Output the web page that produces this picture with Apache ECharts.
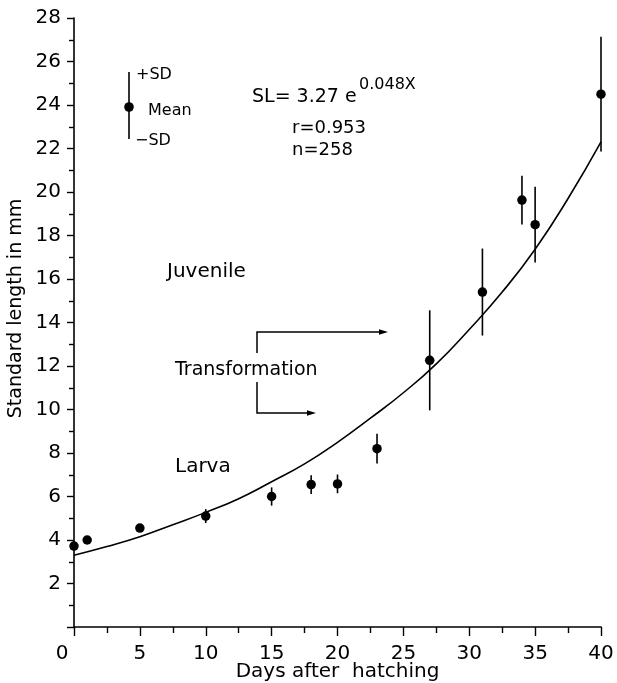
<!DOCTYPE html>
<html>
<head>
<meta charset="utf-8">
<script src="https://cdn.jsdelivr.net/npm/echarts@6/dist/echarts.min.js"></script>
<style>
html,body{margin:0;padding:0;background:#fff;}
#chart{width:617px;height:683px;}
</style>
</head>
<body>
<div id="chart"></div>
<script>
// Observed data: day after hatching, mean standard length (mm), SD
const days   = [0, 1, 5, 10, 15, 18, 20, 23, 27, 31, 34, 35, 40];
const meanSL = [3.72, 4.0, 4.55, 5.1, 6.0, 6.55, 6.58, 8.2, 12.26, 15.4, 19.63, 18.5, 24.5];
const sdSL   = [0.1, 0.1, 0.15, 0.32, 0.42, 0.43, 0.43, 0.68, 2.3, 2.0, 1.12, 1.74, 2.64];

// Fitted curve
const fitDays = [0, 2.5, 5, 7.5, 10, 12.5, 15, 17.5, 20, 22.5, 25, 27.5, 30, 32.5, 35, 37.5, 40];
const fitSL   = [3.3, 3.7, 4.15, 4.7, 5.27, 5.9, 6.68, 7.5, 8.49, 9.6, 10.77, 12.1, 13.68, 15.4, 17.37, 19.7, 22.3];

// Axis labels
const xAxisName = 'Days after  hatching';
const yAxisName = 'Standard length in mm';

const FONT = '"DejaVu Sans", sans-serif';
const chart = echarts.init(document.getElementById('chart'), null, {renderer: 'canvas'});

function arrowHead(tipX, tipY) {
  return {type: 'polygon', shape: {points: [[tipX, tipY], [tipX - 9, tipY - 2.8], [tipX - 9, tipY + 2.8]]},
          style: {fill: '#000'}};
}
function txt(x, y, text, size, extra) {
  return Object.assign({type: 'text', x: x, y: y,
    style: {text: text, font: size + 'px ' + FONT, fill: '#000', textAlign: 'left', textVerticalAlign: 'middle'}}, extra || {});
}

const option = {
  animation: false,
  backgroundColor: '#fff',
  grid: {left: 74, right: 16, top: 18, bottom: 56, containLabel: false, outerBoundsMode: 'none'},
  xAxis: {
    type: 'value', min: 0, max: 40, interval: 5,
    name: xAxisName, nameLocation: 'middle', nameGap: 35, nameMoveOverlap: false,
    nameTextStyle: {fontFamily: FONT, fontSize: 20, color: '#000'},
    axisLine: {show: true, onZero: false, lineStyle: {color: '#000', width: 1.6}},
    axisTick: {show: true, length: 9, lineStyle: {color: '#000', width: 1.4}},
    minorTick: {show: true, splitNumber: 2, length: 6, lineStyle: {color: '#000', width: 1.4}},
    splitLine: {show: false},
    axisLabel: {
      fontFamily: FONT, fontSize: 20, color: '#000', margin: 17,
      formatter: function (v) { return v === 0 ? '{z|0}' : String(v); },
      rich: {z: {fontFamily: FONT, fontSize: 20, color: '#000', padding: [0, 24, 0, 0]}}
    }
  },
  yAxis: {
    type: 'value', min: 0, max: 28, interval: 2,
    name: yAxisName, nameLocation: 'middle', nameGap: 48, nameRotate: 90, nameMoveOverlap: false,
    nameTextStyle: {fontFamily: FONT, fontSize: 19, color: '#000', padding: [0, 0, 0, 28]},
    axisLine: {show: true, onZero: false, lineStyle: {color: '#000', width: 1.6}},
    axisTick: {show: true, length: 7, lineStyle: {color: '#000', width: 1.4}},
    minorTick: {show: true, splitNumber: 2, length: 5, lineStyle: {color: '#000', width: 1.4}},
    splitLine: {show: false},
    axisLabel: {fontFamily: FONT, fontSize: 20, color: '#000', margin: 13, showMinLabel: false}
  },
  series: [
    {
      type: 'line', name: 'fit', smooth: true, showSymbol: false, symbol: 'none',
      lineStyle: {color: '#000', width: 1.6},
      data: fitDays.map(function (d, i) { return [d, fitSL[i]]; }),
      z: 2
    },
    {
      type: 'custom', name: 'SD',
      renderItem: function (params, api) {
        const x = api.value(0);
        const p1 = api.coord([x, api.value(1)]);
        const p2 = api.coord([x, api.value(2)]);
        return {type: 'line', shape: {x1: p1[0], y1: p1[1], x2: p2[0], y2: p2[1]},
                style: {stroke: '#000', lineWidth: 1.6}};
      },
      encode: {x: 0, y: [1, 2]},
      data: days.map(function (d, i) { return [d, meanSL[i] - sdSL[i], meanSL[i] + sdSL[i]]; }),
      z: 3
    },
    {
      type: 'scatter', name: 'Mean', symbol: 'circle', symbolSize: 9.5,
      itemStyle: {color: '#000', opacity: 1},
      data: days.map(function (d, i) { return [d, meanSL[i]]; }),
      z: 4
    }
  ],
  graphic: [
    // key
    {type: 'line', shape: {x1: 129, y1: 72, x2: 129, y2: 139}, style: {stroke: '#000', lineWidth: 1.6}},
    {type: 'circle', shape: {cx: 129, cy: 107, r: 4.8}, style: {fill: '#000'}},
    txt(136, 75, '+SD', 16),
    txt(148, 111, 'Mean', 16),
    txt(135, 141, '\u2212SD', 16),
    // equation
    txt(252, 97, 'SL= 3.27 e', 19),
    txt(359, 85, '0.048X', 16),
    txt(292, 128, 'r=0.953', 18),
    txt(292, 150, 'n=258', 18),
    // stages
    txt(167, 272, 'Juvenile', 20),
    txt(175, 370, 'Transformation', 19),
    txt(175, 467, 'Larva', 20),
    // arrows
    {type: 'polyline', shape: {points: [[257, 353], [257, 332], [380, 332]]}, style: {stroke: '#000', lineWidth: 1.5, fill: null}},
    arrowHead(388, 332),
    {type: 'polyline', shape: {points: [[257, 382], [257, 413], [308, 413]]}, style: {stroke: '#000', lineWidth: 1.5, fill: null}},
    arrowHead(316, 413)
  ]
};
chart.setOption(option);
</script>
</body>
</html>
